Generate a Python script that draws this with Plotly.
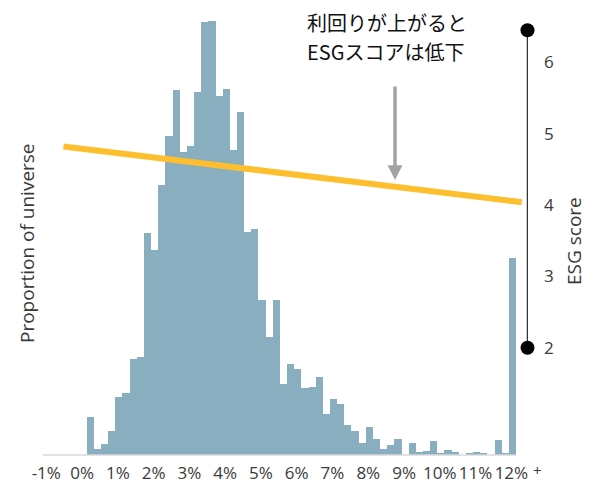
import plotly.graph_objects as go

# Yield distribution of the universe, 0.2% bins from 0% to 12% (last bin = 12%+)
bin_width = 0.2
bin_starts = [round(i * bin_width, 1) for i in range(60)]
proportion = [
    0.55, 0.09, 0.16, 0.35, 0.85, 0.90, 1.39, 1.42, 3.23, 2.98,
    3.92, 4.64, 5.31, 4.40, 4.49, 5.28, 6.29, 6.31, 5.22, 5.32,
    4.43, 4.99, 3.24, 3.29, 2.25, 1.72, 2.25, 1.03, 1.32, 1.25,
    0.97, 0.99, 1.14, 0.59, 0.82, 0.74, 0.43, 0.35, 0.17, 0.40,
    0.23, 0.09, 0.15, 0.23, 0.00, 0.17, 0.05, 0.06, 0.21, 0.02,
    0.07, 0.05, 0.00, 0.03, 0.04, 0.02, 0.00, 0.22, 0.02, 2.87,
]

# Fitted ESG score against yield
trend_x = [-0.65, 12.16]
trend_esg = [4.82, 4.04]

# ESG score scale (min / max of the universe)
esg_range = [2.0, 6.45]
esg_ticks = [2, 3, 4, 5, 6]

x_tick_values = list(range(-1, 13))
x_tick_text = [f"{v}%" for v in x_tick_values]
label_shift = -0.13

annotation_lines = ["利回りが上がると", "ESGスコアは低下"]

bar_color = "#89AEC0"
trend_color = "#FDBF2D"
text_color = "#3a3a3a"

x_range = [-1.2214, 12.334]
y_range = [-0.0436, 6.325]
y2_range = [0.454, 6.593]

# plot area in pixels: left 43, right 528, top 20, bottom 458
plot_w, plot_h = 485, 438


def px_x(px):
    return (px - 43) / plot_w


def px_y(py):
    return (458 - py) / plot_h


fig = go.Figure()

fig.add_trace(go.Bar(
    x=[s + bin_width / 2 for s in bin_starts],
    y=proportion,
    width=bin_width,
    marker=dict(color=bar_color, line=dict(width=0)),
    hoverinfo="skip",
    showlegend=False,
))

# baseline under the bars
fig.add_trace(go.Scatter(
    x=[x_range[0], bin_starts[-1] + bin_width],
    y=[0, 0],
    mode="lines",
    line=dict(color="#d9d9d9", width=1.5),
    hoverinfo="skip",
    showlegend=False,
))

fig.add_trace(go.Scatter(
    x=trend_x,
    y=trend_esg,
    yaxis="y2",
    mode="lines",
    line=dict(color=trend_color, width=6),
    hoverinfo="skip",
    showlegend=False,
    cliponaxis=False,
))

scale_x = 12.32
fig.add_trace(go.Scatter(
    x=[scale_x, scale_x],
    y=esg_range,
    yaxis="y2",
    mode="lines+markers",
    line=dict(color="#333333", width=1.5),
    marker=dict(color="black", size=14),
    hoverinfo="skip",
    showlegend=False,
    cliponaxis=False,
))

annotations = [
    dict(
        text="+", x=px_x(537.5), y=px_y(470), xref="paper", yref="paper",
        xanchor="center", yanchor="middle",
        showarrow=False, font=dict(size=15, color=text_color),
    ),
    dict(
        text="Proportion of universe", textangle=-90,
        x=px_x(27), y=px_y(243), xref="paper", yref="paper",
        xanchor="center", yanchor="middle", showarrow=False,
        font=dict(size=19, color=text_color),
    ),
    dict(
        text="ESG score", textangle=-90,
        x=px_x(574), y=px_y(241), xref="paper", yref="paper",
        xanchor="center", yanchor="middle", showarrow=False,
        font=dict(size=19, color=text_color),
    ),
    dict(
        text="", x=8.617, y=4.35, xref="x", yref="y2",
        ax=0, ay=-95, showarrow=True,
        arrowhead=2, arrowsize=0.85, arrowwidth=3.5, arrowcolor="#a3a3a3",
    ),
]
for line, cy in zip(annotation_lines, [22, 51]):
    annotations.append(dict(
        text=line, x=px_x(305), y=px_y(cy), xref="paper", yref="paper",
        xanchor="left", yanchor="middle", align="left", showarrow=False,
        font=dict(family="Noto Sans CJK JP", size=20, color="#111111"),
    ))

fig.update_layout(
    width=595,
    height=487,
    margin=dict(l=43, r=67, t=20, b=29),
    paper_bgcolor="white",
    plot_bgcolor="white",
    bargap=0,
    font=dict(family="Open Sans", size=17, color=text_color),
    xaxis=dict(
        range=x_range,
        tickvals=[v + label_shift for v in x_tick_values],
        ticktext=x_tick_text,
        tickangle=0,
        automargin=False,
        showgrid=False,
        zeroline=False,
        showline=False,
        ticks="",
        ticklabelstandoff=3,
        tickfont=dict(size=17, color=text_color),
    ),
    yaxis=dict(
        range=y_range,
        automargin=False,
        showgrid=False,
        zeroline=False,
        showline=False,
        showticklabels=False,
        ticks="",
    ),
    yaxis2=dict(
        range=y2_range,
        overlaying="y",
        side="right",
        tickvals=esg_ticks,
        automargin=False,
        showgrid=False,
        zeroline=False,
        showline=False,
        ticks="",
        ticklabelstandoff=15,
        tickfont=dict(size=17, color=text_color),
    ),
    annotations=annotations,
)

fig.write_html("out.html")
